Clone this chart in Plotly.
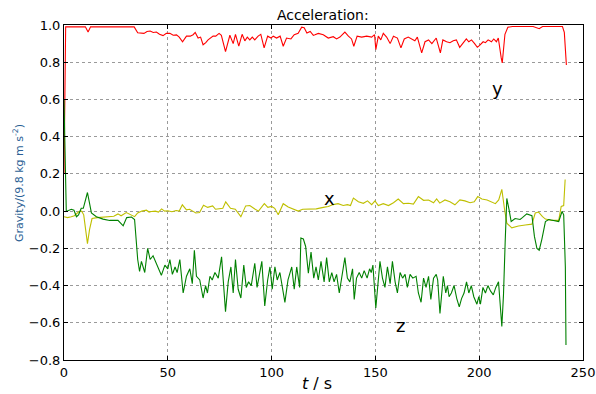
import plotly.graph_objects as go

# ---- data: y component (red) ----
t_y = [0, 0.8, 10.3, 11.6, 12.8, 33.8, 35.5, 37, 38.5, 40, 41.5, 43, 44.5, 46, 47.7, 49.3, 51, 52.6, 54.2, 55.5,
       57.1, 59, 60.8, 62.2, 63.2, 64.6, 65.8, 67, 68.3, 69.4, 71.8, 73.1, 74.7, 75.8, 77.8, 79.9, 81.5, 82.6, 84.2,
       85.8, 87.1, 88.3, 89.5, 90.7, 91.9, 93.5, 94.8, 96.4, 98.1, 99.7, 100.8, 102.4, 104.1, 105.6, 107.2, 109.3,
       110.9, 112.8, 114.5, 115.7, 117, 118.6, 120.1, 120.9, 122.5, 124.9, 127.3, 129.7, 131.3, 132.9, 135.3, 137,
       138.5, 139.6, 141.2, 143.4, 145.8, 148.2, 149.6, 150.2, 151.4, 152.6, 153.8, 155.4, 157.1, 158.7, 160.6,
       162.3, 163.9, 165.8, 167.4, 169, 170.2, 172.3, 173.9, 175.6, 177.2, 179.3, 181.3, 182.5, 184.3, 185.9,
       187.5, 189, 190.6, 192.2, 193.8, 195, 196.3, 197.8, 199.1, 200.2, 201.9, 203, 204.3, 205.9, 207, 208.3,
       209.2, 210.6, 211.1, 212.4, 213.8, 216, 226, 228.9, 230.5, 240.1, 241, 242]
v_y = [0.2, 0.99, 0.99, 0.963, 0.99, 0.99, 0.958, 0.955, 0.955, 0.965, 0.968, 0.96, 0.962, 0.95, 0.943, 0.955,
       0.955, 0.945, 0.947, 0.935, 0.91, 0.94, 0.94, 0.948, 0.96, 0.93, 0.935, 0.894, 0.905, 0.92, 0.94, 0.94, 0.955,
       0.945, 0.857, 0.945, 0.9, 0.95, 0.886, 0.95, 0.915, 0.935, 0.92, 0.935, 0.92, 0.94, 0.95, 0.877, 0.94, 0.93,
       0.94, 0.93, 0.94, 0.886, 0.93, 0.925, 0.948, 0.955, 0.988, 0.985, 0.957, 0.965, 0.945, 0.948, 0.955, 0.948,
       0.93, 0.937, 0.925, 0.935, 0.962, 0.94, 0.925, 0.886, 0.94, 0.935, 0.94, 0.935, 0.948, 0.868, 0.94, 0.92,
       0.955, 0.935, 0.9, 0.94, 0.93, 0.877, 0.925, 0.935, 0.925, 0.915, 0.935, 0.85, 0.91, 0.92, 0.9, 0.93, 0.85,
       0.92, 0.91, 0.905, 0.915, 0.92, 0.88, 0.9, 0.925, 0.91, 0.92, 0.9, 0.88, 0.89, 0.91, 0.905, 0.92, 0.91, 0.925,
       0.91, 0.93, 0.823, 0.796, 0.95, 0.988, 0.992, 0.992, 0.98, 0.992, 0.992, 0.96, 0.785]

# ---- data: x component (yellow) ----
t_x = [0, 1.7, 3.5, 5, 7.2, 8.5, 9.5, 11.3, 12.3, 13.5, 16, 19, 22, 24, 26, 27.5, 30, 32, 34, 35.5, 37.5, 39.7,
       41, 42.1, 44, 45.5, 47, 48.5, 50, 52, 54, 55.5, 57, 59, 60.5, 62, 63.5, 65.3, 67.2, 69.2, 71.6, 73, 75, 76.5,
       77.9, 80.2, 82.5, 85.2, 87.5, 89.5, 92.1, 93.7, 96.5, 98.2, 100, 101.5, 103.2, 105.6, 108, 110.4, 112.8, 115,
       117.6, 119.5, 121.5, 124.9, 127.3, 129.7, 132, 134.5, 136.5, 138, 139.4, 141.8, 144.2, 146.2, 148.2, 149.8,
       151.4, 153.8, 156.3, 158.7, 161, 163.5, 165.9, 168.3, 170.7, 173.2, 175.6, 178, 179.5, 181, 183.5, 185.9,
       188.3, 190.7, 193.1, 195.6, 197.6, 199.3, 201.3, 203.8, 206.2, 207.8, 209.4, 210.9, 212.2, 213.3, 215.7,
       218.9, 222.2, 225.4, 227, 228.6, 230.5, 231.9, 235.1, 238.3, 239.5, 240.7, 241.4]
v_x = [-0.03, -0.035, -0.03, -0.025, -0.002, 0.0, -0.02, -0.175, -0.1, -0.04, -0.035, -0.032, -0.03, -0.028,
       -0.015, -0.025, -0.008, -0.02, -0.03, -0.01, 0.0, 0.005, -0.005, -0.002, 0.0, -0.005, 0.012, 0.0, 0.002,
       -0.003, 0.003, 0.0, 0.034, 0.007, 0.01, 0.0, -0.01, -0.008, 0.032, 0.02, 0.028, 0.01, 0.012, 0.015, 0.05,
       0.015, 0.01, -0.03, 0.028, 0.03, 0.01, 0.0, 0.04, 0.02, 0.025, 0.015, -0.02, 0.04, 0.022, 0.012, 0.0, 0.01,
       0.01, 0.008, 0.012, 0.02, 0.025, 0.035, 0.04, 0.03, 0.035, 0.03, 0.07, 0.05, 0.042, 0.055, 0.035, 0.055,
       0.03, 0.04, 0.03, 0.045, 0.065, 0.04, 0.042, 0.038, 0.078, 0.058, 0.06, 0.045, 0.066, 0.043, 0.06, 0.05,
       0.034, 0.06, 0.055, 0.045, 0.05, 0.078, 0.065, 0.06, 0.05, 0.04, 0.06, 0.117, 0.01, -0.065, -0.09, -0.08,
       -0.075, -0.07, -0.01, -0.005, -0.03, -0.043, -0.05, -0.05, 0.025, 0.03, 0.17]

# ---- data: z component (green) ----
t_z = [0, 1.1, 3.5, 4.8, 6, 7, 8.3, 9.3, 11.3, 13.2, 15.6, 18.8, 22, 26, 28.5, 30.2, 32.5, 34, 35.5, 36.4, 37.3,
       38.9, 40.3, 41.5, 42.9, 43.7, 45.3, 46.9, 48.6, 50, 51, 52.2, 53.5, 54.5, 55.8, 57.4, 59, 60.6, 61.8, 62.8,
       63.8, 65.4, 67, 68.2, 69.1, 70.3, 71.4, 72.7, 74.3, 75.9, 77.8, 79.1, 80.4, 81.5, 82.6, 83.9, 85.2, 86.6,
       87.8, 88.9, 90.2, 91.9, 93, 94.1, 95.3, 96.7, 98.1, 99.2, 100.3, 101.6, 102.7, 104, 105.3, 106.4, 107.9,
       109.7, 110.9, 112.1, 113.5, 114.1, 115.3, 116.4, 117.7, 119, 120.3, 121.4, 122.5, 123.8, 125.3, 126.5,
       127.8, 129, 130.1, 131.3, 132.6, 134.1, 135.3, 136.5, 137.7, 139, 139.8, 140.9, 142.2, 143.4, 144.6, 146,
       147.2, 148, 148.8, 150.2, 151.4, 152.2, 153.4, 154.6, 155.8, 157.1, 158.2, 159.5, 160.6, 161.9, 163.1,
       164.3, 165.4, 166.7, 168, 169.6, 170.7, 172, 173.2, 174.4, 175.6, 176.7, 178, 179.3, 180, 181.1, 182.7,
       183.9, 184.7, 185.5, 186.6, 187.9, 189.2, 190.4, 191.5, 192.7, 193.9, 195, 196.2, 197.4, 198.9, 199.8,
       200.6, 201.8, 203, 204.2, 205.5, 206.8, 208, 209.3, 210.9, 211.7, 212.5, 213.3, 214.4, 215.4, 217.3, 219.7,
       220.8, 222.9, 225.4, 226.6, 227.8, 228.9, 230.2, 231.9, 233.5, 235.9, 238.3, 239.9, 240.7, 241.5, 241.8]
v_z = [0.6, -0.002, 0.01, 0.005, -0.03, -0.02, 0.015, 0.015, 0.1, -0.01, -0.03, -0.043, -0.05, -0.05, -0.079,
       -0.035, -0.032, -0.045, -0.26, -0.324, -0.27, -0.33, -0.2, -0.26, -0.24, -0.26, -0.3, -0.345, -0.29, -0.31,
       -0.26, -0.34, -0.3, -0.33, -0.26, -0.44, -0.35, -0.31, -0.39, -0.21, -0.35, -0.37, -0.467, -0.4, -0.44,
       -0.35, -0.37, -0.33, -0.36, -0.245, -0.54, -0.38, -0.3, -0.44, -0.26, -0.42, -0.467, -0.29, -0.41, -0.38,
       -0.4, -0.28, -0.41, -0.35, -0.27, -0.51, -0.37, -0.3, -0.42, -0.3, -0.37, -0.33, -0.42, -0.49, -0.37, -0.3,
       -0.42, -0.3, -0.41, -0.145, -0.15, -0.19, -0.334, -0.22, -0.36, -0.3, -0.37, -0.27, -0.38, -0.25, -0.38,
       -0.33, -0.38, -0.34, -0.44, -0.32, -0.25, -0.36, -0.38, -0.31, -0.475, -0.36, -0.33, -0.36, -0.32, -0.36,
       -0.31, -0.33, -0.29, -0.52, -0.35, -0.27, -0.36, -0.41, -0.3, -0.39, -0.27, -0.38, -0.44, -0.33, -0.36,
       -0.34, -0.41, -0.34, -0.36, -0.35, -0.44, -0.49, -0.36, -0.41, -0.35, -0.475, -0.36, -0.34, -0.37, -0.55,
       -0.35, -0.44, -0.4, -0.46, -0.44, -0.4, -0.47, -0.515, -0.47, -0.44, -0.38, -0.44, -0.4, -0.46, -0.5, -0.46,
       -0.5, -0.41, -0.44, -0.4, -0.43, -0.45, -0.41, -0.38, -0.62, -0.45, -0.17, 0.068, 0.007, -0.056, -0.04,
       -0.045, -0.035, -0.015, -0.025, -0.136, -0.2, -0.21, -0.15, -0.056, -0.045, -0.05, -0.056, -0.002, -0.02,
       -0.3, -0.72]

x_ticks = [0, 50, 100, 150, 200, 250]
y_ticks = [-0.8, -0.6, -0.4, -0.2, 0.0, 0.2, 0.4, 0.6, 0.8, 1.0]

# series labels and positions (data coords)
label_text = ["y", "x", "z"]
label_t = [209, 128, 162]
label_v = [0.66, 0.07, -0.615]

FONT = "DejaVu Sans"

W, H = 596, 394
PL, PR, PT, PB = 64, 583, 25, 360   # plot area in window pixels
pw, ph = PR - PL, PB - PT

fig = go.Figure()
fig.add_trace(go.Scatter(x=t_y, y=v_y, mode="lines", line=dict(color="#ff0000", width=1.1), name="y"))
fig.add_trace(go.Scatter(x=t_x, y=v_x, mode="lines", line=dict(color="#bfbf00", width=1.1), name="x"))
fig.add_trace(go.Scatter(x=t_z, y=v_z, mode="lines", line=dict(color="#008000", width=1.1), name="z"))

for txt, tx, ty in zip(label_text, label_t, label_v):
    fig.add_annotation(x=tx, y=ty, text=txt, showarrow=False, xref="x", yref="y",
                       font=dict(family=FONT, size=18, color="black"))

axis_common = dict(showline=True, linecolor="black", linewidth=1, mirror="ticks", ticks="inside",
                   ticklen=4, tickcolor="black", showgrid=True, gridcolor="#9a9a9a", griddash="dot",
                   gridwidth=1, zeroline=False, automargin=False,
                   tickfont=dict(family=FONT, size=13, color="black"))

fig.update_layout(
    width=W, height=H,
    margin=dict(l=PL, r=W - PR, t=PT, b=H - PB, autoexpand=False),
    paper_bgcolor="white", plot_bgcolor="white",
    showlegend=False,
    xaxis=dict(range=[0, 250], tickvals=x_ticks, **axis_common),
    yaxis=dict(range=[-0.8, 1.0], tickvals=y_ticks, tickformat=".1f", **axis_common),
)

# title, axis labels placed in window pixels relative to the plot area
fig.add_annotation(text="Acceleration:", x=(323 - PL) / pw, y=(PB - 15) / ph, xref="paper", yref="paper",
                   showarrow=False, xanchor="center", yanchor="middle",
                   font=dict(family=FONT, size=14, color="black"))
fig.add_annotation(text="<i>t</i> / s", x=(317 - PL) / pw, y=(PB - 383) / ph, xref="paper", yref="paper",
                   showarrow=False, xanchor="center", yanchor="middle",
                   font=dict(family=FONT, size=16, color="black"))
fig.add_annotation(text="Gravity/(9.8 kg m s<sup>-2</sup>)", textangle=-90, x=(18 - PL) / pw,
                   y=(PB - 183) / ph, xref="paper", yref="paper", showarrow=False,
                   xanchor="center", yanchor="middle",
                   font=dict(family=FONT, size=11, color="#2b5f95"))

fig.write_html("out.html", config={"displayModeBar": False},
               post_script="document.body.style.margin='0';document.body.style.overflow='hidden';")
